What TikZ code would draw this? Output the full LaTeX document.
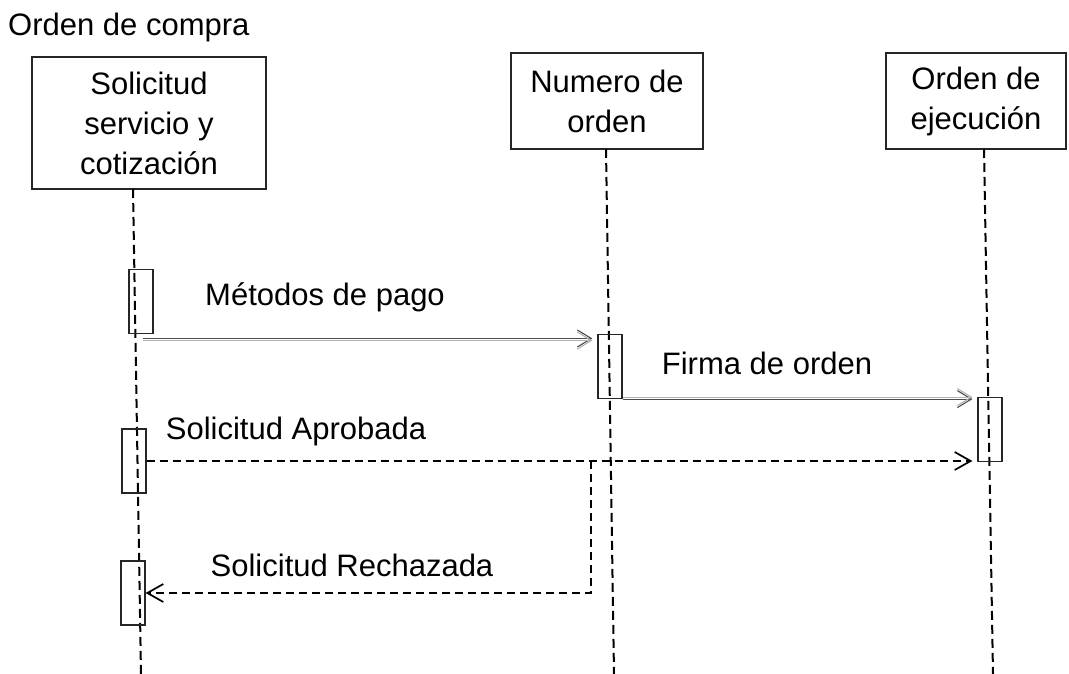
\documentclass[tikz,border=0pt]{standalone}
\usepackage{fontspec}
\setmainfont{Liberation Sans}
\usetikzlibrary{arrows.meta}
\tikzset{
  lbl/.style={font=\fontsize{31}{40}\selectfont, inner sep=0pt, align=center},
  participant/.style={draw=black!85, line width=1.2pt, lbl},
  actbox/.style={draw=black!85, line width=1.2pt, minimum width=24pt, minimum height=64pt, inner sep=0pt},
  lifeline/.style={line width=2pt, dash pattern=on 9pt off 5pt},
  tipopen/.style={-{Straight Barb[length=14pt,width=17pt,line width=1.1pt]}},
  tipreply/.style={-{Straight Barb[length=16pt,width=18pt,line width=1.7pt]}},
  syncmsg/.style={tipopen, draw=black!70, line width=0.9pt},
  syncshadow/.style={tipopen, draw=black!30, line width=0.9pt},
  replymsg/.style={tipreply, line width=1.7pt, dash pattern=on 8pt off 5pt}
}
\begin{document}
\begin{tikzpicture}[x=1pt,y=-1pt]
\useasboundingbox (0,0) rectangle (1069,674);
\node[lbl, anchor=west] (title) at (8,27) {Orden de compra};

\node[participant, minimum width=234pt, minimum height=132pt] (P1) at (149,123) {Solicitud\\servicio y\\cotización};
\node[participant, minimum width=192pt, minimum height=96pt] (P2) at (607,101) {Numero de\\orden};
\node[participant, minimum width=180pt, minimum height=96pt] (P3) at (976,101) {Orden de\\ejecución};

\coordinate (L1t) at (133,189);
\coordinate (L1b) at (141,674);
\coordinate (L2t) at (606,149);
\coordinate (L2b) at (614,674);
\coordinate (L3t) at (984,149);
\coordinate (L3b) at (993,674);
\draw[lifeline] (L1t) -- (L1b);
\draw[lifeline] (L2t) -- (L2b);
\draw[lifeline] (L3t) -- (L3b);

\node[actbox] (A1) at (141,301.5) {};
\node[actbox] (A2) at (610,366.5) {};
\node[actbox] (A3) at (990,429.5) {};
\node[actbox] (A4) at (134,461) {};
\node[actbox] (A5) at (133,593) {};

% Métodos de pago
\coordinate (m1) at (143,338.5);
\coordinate (m1s) at (143,340.5);
\draw[syncmsg] (m1) -- ([xshift=-5pt]A2.west |- m1);
\draw[syncshadow] (m1s) -- ([xshift=-5pt]A2.west |- m1s);
\node[lbl] (tm) at (325,297) {Métodos de pago};

% Firma de orden
\coordinate (f1) at (A2.south east);
\coordinate (f1s) at ([yshift=2pt]A2.south east);
\draw[syncmsg] (f1) -- ([xshift=-5pt]A3.west |- f1);
\draw[syncshadow] (f1s) -- ([xshift=-5pt]A3.west |- f1s);
\node[lbl] (tf) at (767,363) {Firma de orden};

% Solicitud Aprobada
\coordinate (br) at (591,461);
\coordinate (bc) at (591,593);
\draw[replymsg] (A4.east) -- ([xshift=-5pt]A3.west |- A4.east);
\node[lbl] (ta) at (296,431) {Solicitud Aprobada};

% Solicitud Rechazada
\draw[replymsg] (br) -- (bc) -- (A5.east);
\node[lbl] (tr) at (352,565) {Solicitud Rechazada};
\end{tikzpicture}
\end{document}
